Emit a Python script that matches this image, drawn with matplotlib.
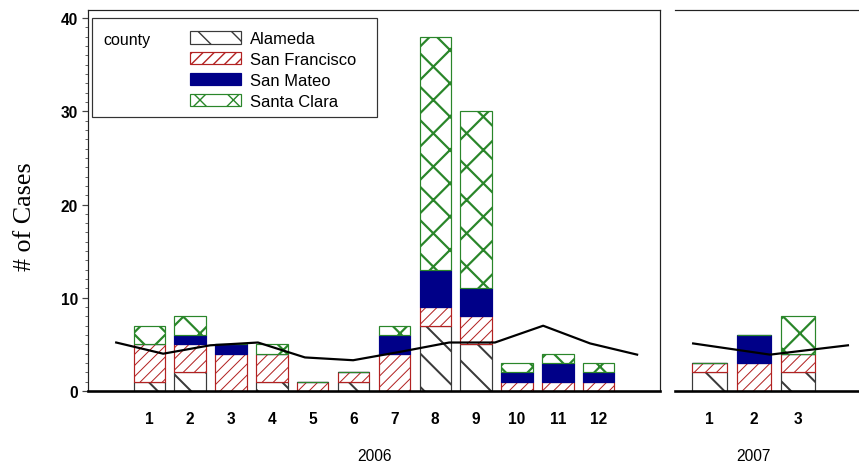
import matplotlib
matplotlib.use("Agg")
import matplotlib.pyplot as plt
from matplotlib.patches import Patch, Rectangle
from matplotlib.ticker import MultipleLocator
from matplotlib.transforms import blended_transform_factory

# ---------------- data ----------------
counties = ["Alameda", "San Francisco", "San Mateo", "Santa Clara"]

months_2006 = [1, 2, 3, 4, 5, 6, 7, 8, 9, 10, 11, 12]
alameda_2006 = [1, 2, 0, 1, 0, 1, 0, 7, 5, 0, 0, 0]
sanfran_2006 = [4, 3, 4, 3, 1, 1, 4, 2, 3, 1, 1, 1]
sanmateo_2006 = [0, 1, 1, 0, 0, 0, 2, 4, 3, 1, 2, 1]
santaclara_2006 = [2, 2, 0, 1, 0, 0, 1, 25, 19, 1, 1, 1]

months_2007 = [1, 2, 3]
alameda_2007 = [2, 0, 2]
sanfran_2007 = [1, 3, 2]
sanmateo_2007 = [0, 3, 0]
santaclara_2007 = [0, 0, 4]

baseline_x_2006 = [0.19, 1.34, 2.49, 3.66, 4.81, 5.99, 7.14, 8.34, 9.46, 10.64, 11.79, 12.94]
baseline_2006 = [5.2, 4.0, 4.9, 5.2, 3.6, 3.3, 4.2, 5.2, 5.2, 7.0, 5.1, 3.9]
baseline_x_2007 = [0.63, 2.37, 4.13]
baseline_2007 = [5.1, 3.9, 4.9]

year_labels = ["2006", "2007"]

# ---------------- style ----------------
DPI = 100
W, H = 859, 464
PX = 72.0 / DPI


def pt(px):
    return px * PX


styles = {
    "Alameda": dict(facecolor="white", edgecolor="#3a3a3a", hatch="\\", hlw=2.0),
    "San Francisco": dict(facecolor="white", edgecolor="#B22222", hatch="///", hlw=1.0),
    "San Mateo": dict(facecolor="#000088", edgecolor="#000088", hatch=None, hlw=1.0),
    "Santa Clara": dict(facecolor="white", edgecolor="#2A862A", hatch="x", hlw=2.2),
}

plt.rcParams["font.family"] = ["Liberation Sans", "DejaVu Sans"]

fig = plt.figure(figsize=(W / DPI, H / DPI), dpi=DPI)


def frac_box(x0, y0, x1, y1):
    return [x0 / W, 1 - y1 / H, (x1 - x0) / W, (y1 - y0) / H]


ax1 = fig.add_axes(frac_box(88, 11, 660, 392))
ax2 = fig.add_axes(frac_box(675, 11, 859, 392))


def draw_stack(ax, months, series, width):
    bottom = [0] * len(months)
    for name, vals in zip(counties, series):
        st = styles[name]
        with plt.rc_context({"hatch.linewidth": pt(st["hlw"])}):
            bars = ax.bar(months, vals, bottom=bottom, width=width,
                          facecolor=st["facecolor"], edgecolor=st["edgecolor"],
                          hatch=st["hatch"], linewidth=pt(1.2), zorder=2)
        for b in bars:
            if hasattr(b, "set_hatch_linewidth"):
                b.set_hatch_linewidth(pt(st["hlw"]))
        bottom = [b0 + v for b0, v in zip(bottom, vals)]


draw_stack(ax1, months_2006,
           [alameda_2006, sanfran_2006, sanmateo_2006, santaclara_2006], 0.77)
draw_stack(ax2, months_2007,
           [alameda_2007, sanfran_2007, sanmateo_2007, santaclara_2007], 0.77)

ax1.plot(baseline_x_2006, baseline_2006, color="black", lw=pt(2.2), zorder=4)
ax2.plot(baseline_x_2007, baseline_2007, color="black", lw=pt(2.2), zorder=4)

ymax = 40.86
ax1.set_xlim(-0.5, 13.5)
ax1.set_ylim(0, ymax)
ax2.set_xlim(0.22, 4.38)
ax2.set_ylim(0, ymax)

TICK_FS = 15.5
for ax in (ax1, ax2):
    for s in ("top", "left", "right"):
        ax.spines[s].set_linewidth(pt(1.2))
        ax.spines[s].set_color("#222222")
    ax.spines["bottom"].set_linewidth(pt(2.6))
    ax.spines["bottom"].set_color("black")
    ax.tick_params(axis="x", length=0, pad=pt(20), labelsize=pt(TICK_FS))

ax2.spines["left"].set_visible(False)
ax2.spines["right"].set_visible(False)
ax2.set_yticks([])

ax1.set_xticks(months_2006)
ax1.set_xticklabels([str(m) for m in months_2006], fontweight="bold")
ax2.set_xticks(months_2007)
ax2.set_xticklabels([str(m) for m in months_2007], fontweight="bold")

ax1.yaxis.set_major_locator(MultipleLocator(10))
ax1.yaxis.set_minor_locator(MultipleLocator(1))
ax1.tick_params(axis="y", which="major", length=pt(6), width=pt(1.2),
                color="#444444", labelsize=pt(TICK_FS), pad=pt(4))
ax1.tick_params(axis="y", which="minor", length=pt(3.5), width=pt(1),
                color="#666666")
for lab in ax1.get_yticklabels():
    lab.set_fontweight("bold")

# year labels
ax1.text(0.5, 1 - 457 / H, year_labels[0], fontsize=pt(TICK_FS), ha="center", va="center",
         transform=blended_transform_factory(ax1.transAxes, fig.transFigure))
ax2.text(2, 1 - 457 / H, year_labels[1], fontsize=pt(TICK_FS), ha="center", va="center",
         transform=blended_transform_factory(ax2.transData, fig.transFigure))

# y label
fig.text(25 / W, 1 - 217 / H, "# of Cases", rotation=90, ha="center", va="center",
         fontsize=pt(26), family=["Liberation Serif", "DejaVu Serif"])

# legend
fig.patches.append(Rectangle((92 / W, 1 - 118 / H), 285 / W, 99 / H,
                             transform=fig.transFigure, fill=False,
                             edgecolor="#333333", lw=pt(1.2), zorder=5))
fig.text(103 / W, 1 - 40 / H, "county", ha="left", va="center", fontsize=pt(16))

handles = []
for name in counties:
    st = styles[name]
    with plt.rc_context({"hatch.linewidth": pt(st["hlw"])}):
        h = Patch(facecolor=st["facecolor"], edgecolor=st["edgecolor"],
                  hatch=st["hatch"], linewidth=pt(1.2), label=name)
    if hasattr(h, "set_hatch_linewidth"):
        h.set_hatch_linewidth(pt(st["hlw"]))
    handles.append(h)

fs_leg = 16.5
leg = ax1.legend(handles=handles, loc="upper left",
                 bbox_to_anchor=(190 / W, 1 - 32 / H), bbox_transform=fig.transFigure,
                 frameon=False, fontsize=pt(fs_leg), borderpad=0, borderaxespad=0,
                 handlelength=51 / fs_leg, handleheight=13 / fs_leg,
                 handletextpad=9 / fs_leg, labelspacing=0.36)

fig.savefig("out.png", dpi=DPI)
